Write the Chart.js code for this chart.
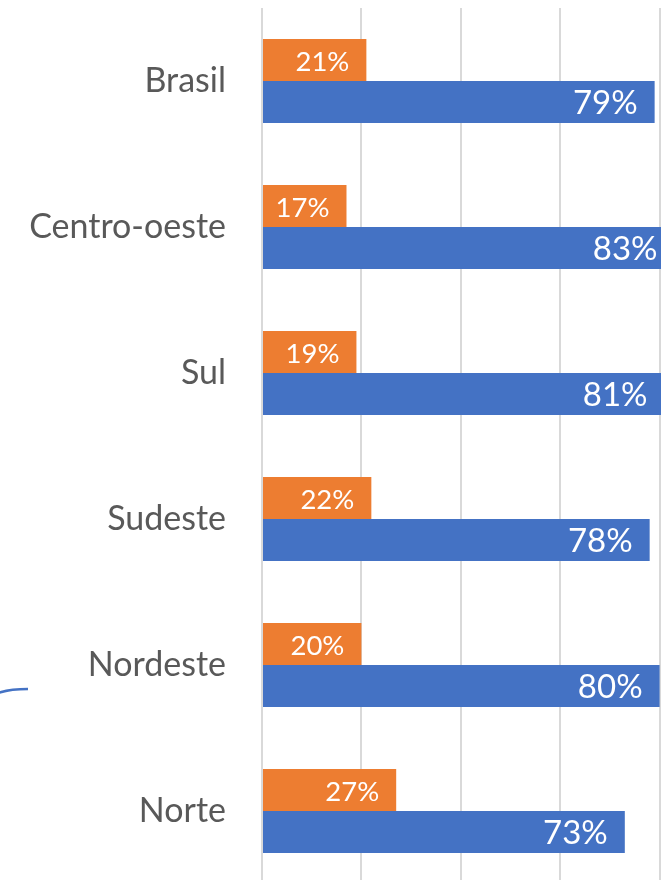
<!DOCTYPE html>
<html>
<head>
<meta charset="utf-8">
<script src="https://cdn.jsdelivr.net/npm/chart.js@4/dist/chart.umd.min.js"></script>
<style>
html,body{margin:0;padding:0;background:#fff;overflow:hidden;}
#wrap{position:relative;width:780px;height:900px;}
</style>
</head>
<body>
<div id="wrap"><canvas id="c" width="780" height="900"></canvas></div>
<script>
const categories = ["Brasil", "Centro-oeste", "Sul", "Sudeste", "Nordeste", "Norte"];
const seriesOrange = [21, 17, 19, 22, 20, 27];
const seriesBlue = [79, 83, 81, 78, 80, 73];
const xTicks = [0, 20, 40, 60, 80, 100];

const FONT = "Lato, 'Open Sans', sans-serif";

const labelPlugin = {
  id: 'barLabels',
  afterDatasetsDraw(chart) {
    const ctx = chart.ctx;
    chart.data.datasets.forEach((ds, di) => {
      const meta = chart.getDatasetMeta(di);
      const size = di === 0 ? 27.5 : 33;
      meta.data.forEach((bar, i) => {
        ctx.save();
        ctx.fillStyle = '#ffffff';
        ctx.font = size + 'px ' + FONT;
        ctx.textAlign = 'right';
        ctx.textBaseline = 'middle';
        ctx.fillText(ds.data[i] + '%', bar.x - 17, bar.y + (di === 0 ? 2 : 1));
        ctx.restore();
      });
    });
  }
};

const decoPlugin = {
  id: 'deco',
  afterDraw(chart) {
    const ctx = chart.ctx;
    ctx.save();
    ctx.strokeStyle = '#4472C4';
    ctx.lineWidth = 2.5;
    ctx.beginPath();
    ctx.moveTo(-2, 693);
    ctx.quadraticCurveTo(10, 689, 28, 689);
    ctx.stroke();
    ctx.restore();
  }
};

new Chart(document.getElementById('c'), {
  type: 'bar',
  data: {
    labels: categories,
    datasets: [
      { label: 'A', data: seriesOrange, backgroundColor: '#ED7D31', borderWidth: 0 },
      { label: 'B', data: seriesBlue, backgroundColor: '#4472C4', borderWidth: 0 }
    ]
  },
  options: {
    indexAxis: 'y',
    responsive: false,
    animation: false,
    events: [],
    layout: { padding: { top: 8, bottom: 16, left: 0, right: 21 } },
    datasets: { bar: { categoryPercentage: 0.575, barPercentage: 1 } },
    plugins: { legend: { display: false }, tooltip: { enabled: false } },
    scales: {
      x: {
        min: 0, max: 100,
        afterBuildTicks(scale) { scale.ticks = xTicks.map(v => ({ value: v })); },
        afterFit(scale) { scale.height = 0; scale.paddingLeft = 0; scale.paddingRight = 0; },
        ticks: { display: false },
        border: { display: false },
        grid: { color: '#D9D9D9', lineWidth: 2, drawTicks: false }
      },
      y: {
        afterFit(scale) { scale.width = 262; scale.paddingTop = 0; scale.paddingBottom = 0; },
        grid: { display: false, drawTicks: false },
        border: { display: false },
        ticks: { color: '#595959', font: { family: FONT, size: 34 }, padding: 36 }
      }
    }
  },
  plugins: [labelPlugin, decoPlugin]
});
</script>
</body>
</html>
